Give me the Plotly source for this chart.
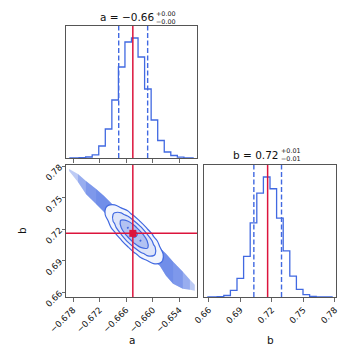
import numpy as np
import plotly.graph_objects as go

# axis ranges and ticks
a_range = [-0.6796, -0.6500]
b_range = [0.6555, 0.7810]
a_ticks = [-0.678, -0.672, -0.666, -0.660, -0.654]
b_ticks = [0.66, 0.69, 0.72, 0.75, 0.78]

# 1D histograms (20 bins over each range)
a_counts = [0, 0, 0.3, 1.0, 3.2, 12, 29, 58, 91, 116, 120, 101, 69, 38, 17.5, 6, 2.5, 0.8, 0.2, 0]
b_counts = [0, 0, 0.4, 1.5, 6.7, 18.5, 40.5, 74, 103.7, 119.7, 108, 78.7, 46, 20.8, 7.7, 2.3, 0.6, 0.2, 0, 0]

# 16% / 84% quantiles and truth values
a_quant = [-0.66769, -0.66115]
b_quant = [0.7029, 0.7292]
a_truth = -0.6645
b_truth = 0.716

# outline of the sample cloud outside the contours
band_a = [-0.6789, -0.6769, -0.6751, -0.6728, -0.6710, -0.6647, -0.6584, -0.6570, -0.6554, -0.6532, -0.6516, -0.6505]
band_b_top = [0.7772, 0.7724, 0.7658, 0.7582, 0.7516, 0.7250, 0.7023, 0.6966, 0.6890, 0.6795, 0.6719, 0.6672]
band_b_bottom = [0.7753, 0.7648, 0.7535, 0.7440, 0.7364, 0.7061, 0.6852, 0.6757, 0.6682, 0.6634, 0.6625, 0.6615]
band_layers = [(0, 11, 0.35), (1, 10, 0.3), (2, 9, 0.3), (3, 8, 0.2)]

# smoothed 2D density (rows: b low -> high, cols: a low -> high)
grid_a = [-0.67299, -0.67153, -0.67006, -0.66860, -0.66713, -0.66567, -0.66420,
          -0.66274, -0.66127, -0.65981, -0.65834, -0.65688, -0.65541]
grid_b = [0.6777, 0.68395, 0.6902, 0.69645, 0.7027, 0.70895, 0.7152,
          0.72145, 0.7277, 0.73395, 0.7402, 0.74645, 0.7527]
density = [
    [0, 0, 0, 0, 0, 0, 0, 0, 0.3, 1.1, 2.3, 2.7, 1.8],
    [0, 0, 0, 0, 0, 0, 0.1, 0.7, 2.7, 6.2, 8.2, 6.2, 2.7],
    [0, 0, 0, 0, 0, 0.1, 1.2, 5.3, 13.5, 20.0, 16.9, 8.2, 2.3],
    [0, 0, 0, 0, 0.2, 1.6, 8.2, 23.6, 38.9, 36.8, 20.0, 6.2, 1.1],
    [0, 0, 0, 0.2, 1.8, 10.3, 32.9, 60.7, 64.1, 38.9, 13.5, 2.7, 0.3],
    [0, 0, 0.1, 1.6, 10.3, 36.8, 75.8, 89.5, 60.7, 23.6, 5.3, 0.7, 0],
    [0, 0.1, 1.2, 8.2, 32.9, 75.8, 100, 75.8, 32.9, 8.2, 1.2, 0.1, 0],
    [0, 0.7, 5.3, 23.6, 60.7, 89.5, 75.8, 36.8, 10.3, 1.6, 0.1, 0, 0],
    [0.3, 2.7, 13.5, 38.9, 64.1, 60.7, 32.9, 10.3, 1.8, 0.2, 0, 0, 0],
    [1.1, 6.2, 20.0, 36.8, 38.9, 23.6, 8.2, 1.6, 0.2, 0, 0, 0, 0],
    [2.3, 8.2, 16.9, 20.0, 13.5, 5.3, 1.2, 0.1, 0, 0, 0, 0, 0],
    [2.7, 6.2, 8.2, 6.2, 2.7, 0.7, 0.1, 0, 0, 0, 0, 0, 0],
    [1.8, 2.7, 2.3, 1.1, 0.3, 0, 0, 0, 0, 0, 0, 0, 0],
]
levels = [13.5, 32.5, 60.7, 88.2]
level_fills = ['#f2f5fd', '#dde4f9', '#b2c2f2', '#86a0eb']

BLUE = '#4169e1'
RED = '#dc143c'
FONT = 'DejaVu Sans'

a_edges = np.linspace(a_range[0], a_range[1], 21)
b_edges = np.linspace(b_range[0], b_range[1], 21)
a_centers = (a_edges[:-1] + a_edges[1:]) / 2
b_centers = (b_edges[:-1] + b_edges[1:]) / 2

fig = go.Figure()

# top: histogram of a
fig.add_trace(go.Scatter(x=a_centers, y=a_counts, mode='lines', line_shape='hvh',
                         line=dict(color=BLUE, width=1.3), xaxis='x', yaxis='y', hoverinfo='skip'))

# bottom right: histogram of b
fig.add_trace(go.Scatter(x=b_centers, y=b_counts, mode='lines', line_shape='hvh',
                         line=dict(color=BLUE, width=1.3), xaxis='x3', yaxis='y3', hoverinfo='skip'))

# bottom left: contour levels of the 2D density
for lev, col in zip(levels, level_fills):
    fig.add_trace(go.Contour(
        x=grid_a, y=grid_b, z=density,
        autocontour=False,
        contours=dict(start=lev, end=lev, size=1, coloring='fill', showlines=True),
        colorscale=[[0, 'rgba(255,255,255,0)'], [0.5, 'rgba(255,255,255,0)'],
                    [0.5, col], [1, col]],
        line=dict(color=BLUE, width=1.2, smoothing=1.0),
        showscale=False, xaxis='x2', yaxis='y2', hoverinfo='skip'))

fig.add_trace(go.Scatter(x=[a_truth], y=[b_truth], mode='markers',
                         marker=dict(symbol='square', size=7, color=RED),
                         xaxis='x2', yaxis='y2', hoverinfo='skip'))

shapes = []
# sample cloud, drawn beneath the contour fills (nested layers, denser in the middle)
for i0, i1, al in band_layers:
    xs = band_a[i0:i1 + 1] + band_a[i0:i1 + 1][::-1]
    ys = band_b_top[i0:i1 + 1] + band_b_bottom[i0:i1 + 1][::-1]
    path = 'M ' + ' L '.join('{},{}'.format(x, y) for x, y in zip(xs, ys)) + ' Z'
    shapes.append(dict(type='path', path=path, xref='x2', yref='y2', layer='below',
                       fillcolor='rgba(65,105,225,{})'.format(al), line=dict(width=0)))
for q in a_quant:
    shapes.append(dict(type='line', xref='x', yref='y domain', x0=q, x1=q, y0=0, y1=1,
                       line=dict(color=BLUE, width=1.4, dash='5px,2.5px')))
for q in b_quant:
    shapes.append(dict(type='line', xref='x3', yref='y3 domain', x0=q, x1=q, y0=0, y1=1,
                       line=dict(color=BLUE, width=1.4, dash='5px,2.5px')))
for xr, yr, v in [('x', 'y domain', a_truth), ('x2', 'y2 domain', a_truth), ('x3', 'y3 domain', b_truth)]:
    shapes.append(dict(type='line', xref=xr, yref=yr, x0=v, x1=v, y0=0, y1=1,
                       line=dict(color=RED, width=1.5)))
shapes.append(dict(type='line', xref='x2 domain', yref='y2', x0=0, x1=1, y0=b_truth, y1=b_truth,
                   line=dict(color=RED, width=1.5)))


def px_x(p):
    return p / 363


def px_y(p):
    return 1 - p / 363


annotations = []
for text, x, y, size, anchor in [
    ('a = −0.66', 155, 17.0, 10.5, 'right'),
    ('+0.00<br>−0.00', 155, 17.6, 6.4, 'left'),
    ('b = 0.72', 280, 154.6, 10.5, 'right'),
    ('+0.01<br>−0.01', 280, 155.2, 6.4, 'left'),
    ('a', 131.5, 340, 10.5, 'center'),
    ('b', 270, 340, 10.5, 'center'),
]:
    annotations.append(dict(text=text, x=px_x(x), y=px_y(y), xref='paper', yref='paper',
                            xanchor=anchor, yanchor='middle', showarrow=False, align='left',
                            borderpad=0, font=dict(family=FONT, size=size, color='#111')))
annotations.append(dict(text='b', x=px_x(22), y=px_y(231), xref='paper', yref='paper',
                        textangle=-90, showarrow=False, xanchor='center', yanchor='middle',
                        font=dict(family=FONT, size=10.5, color='#111')))

x_left = [66 / 363, 197 / 363]
x_right = [204 / 363, 336 / 363]
y_top = [1 - 158 / 363, 1 - 26 / 363]
y_bottom = [1 - 297 / 363, 1 - 165 / 363]

frame = dict(showline=True, linecolor='#555', linewidth=1, mirror=True, showgrid=False,
             zeroline=False, ticks='outside', ticklen=3.5, tickwidth=0.8, tickcolor='#444',
             automargin=False, tickfont=dict(family=FONT, size=8.6, color='#111'))
hist_y = dict(showline=True, linecolor='#555', linewidth=1, mirror=True, showgrid=False,
              zeroline=False, ticks='', showticklabels=False, automargin=False)

fig.update_layout(
    template='none',
    width=363, height=363,
    margin=dict(l=0, r=0, t=0, b=0),
    paper_bgcolor='white', plot_bgcolor='white',
    font=dict(family=FONT, color='#111'),
    showlegend=False, hovermode=False,
    xaxis=dict(frame, domain=x_left, anchor='y', range=a_range, tickvals=a_ticks, showticklabels=False),
    yaxis=dict(hist_y, domain=y_top, anchor='x', range=[0, 1.1 * max(a_counts)]),
    xaxis2=dict(frame, domain=x_left, anchor='y2', range=a_range, tickvals=a_ticks,
                tickformat='.3f', tickangle=-45),
    yaxis2=dict(frame, domain=y_bottom, anchor='x2', range=b_range, tickvals=b_ticks,
                tickformat='.2f', tickangle=-45),
    xaxis3=dict(frame, domain=x_right, anchor='y3', range=b_range, tickvals=b_ticks,
                tickformat='.2f', tickangle=-45),
    yaxis3=dict(hist_y, domain=y_bottom, anchor='x3', range=[0, 1.1 * max(b_counts)]),
    shapes=shapes,
    annotations=annotations,
)

# the page body has a default 8px margin; remove it so the figure sits at the window corner
fig.write_html("out.html", config={'displayModeBar': False, 'staticPlot': True},
               post_script="document.body.style.margin = '0px';")
